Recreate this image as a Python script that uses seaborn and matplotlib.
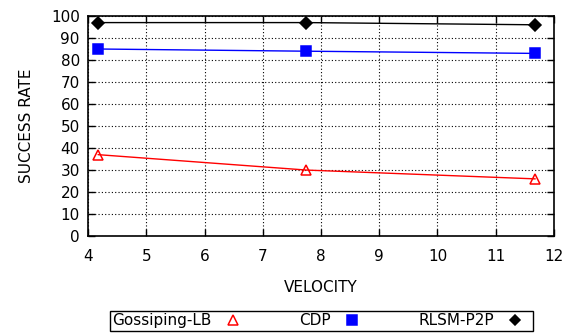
import pandas as pd
import matplotlib.pyplot as plt
import seaborn as sns

velocity = [4.17, 7.75, 11.68]
gossiping_lb = [37, 30, 26]
cdp = [85, 84, 83]
rlsm_p2p = [97, 97, 96]

series_names = ["Gossiping-LB", "CDP", "RLSM-P2P"]
series_values = [gossiping_lb, cdp, rlsm_p2p]
colors = ["red", "blue", "black"]
markers = ["^", "s", "D"]

sns.set_style("ticks")
plt.rcParams["font.family"] = ["DejaVu Sans"]
plt.rcParams["text.color"] = "black"
plt.rcParams["axes.labelcolor"] = "black"
plt.rcParams["xtick.color"] = "black"
plt.rcParams["ytick.color"] = "black"

fig = plt.figure(figsize=(5.8, 3.33), dpi=100)
ax = fig.add_axes([0.152, 0.291, 0.803, 0.661])

handles = []
for name, vals, c, m in zip(series_names, series_values, colors, markers):
    df = pd.DataFrame({"velocity": velocity, "rate": vals})
    face = "none" if m == "^" else c
    sns.lineplot(data=df, x="velocity", y="rate", ax=ax, color=c, linewidth=1,
                 marker=m, markersize=7.5 if m != "D" else 6,
                 markerfacecolor=face, markeredgecolor=c, markeredgewidth=1.1)
    h, = ax.plot([], [], linestyle="none", marker=m, color=c,
                 markerfacecolor=face, markeredgecolor=c,
                 markersize=6.5 if m != "D" else 5.5, markeredgewidth=1.1)
    handles.append(h)

ax.set_xlim(4, 12)
ax.set_ylim(0, 100)
ax.set_xticks(range(4, 13))
ax.set_yticks(range(0, 101, 10))
ax.grid(True, color="black", linestyle=(0, (1, 2)), linewidth=0.8)
ax.tick_params(direction="in", top=True, right=True, length=5, labelsize=11, width=1)
ax.tick_params(axis="x", pad=9)
ax.tick_params(axis="y", pad=6)
for sp in ax.spines.values():
    sp.set_color("black")
    sp.set_linewidth(1.2)
ax.set_xlabel("VELOCITY", fontsize=11, labelpad=12)
ax.set_ylabel("SUCCESS RATE", fontsize=11, labelpad=12)

leg = fig.legend(handles, series_names, loc="upper left", ncol=3,
                 bbox_to_anchor=(0.19, -0.02, 0.729, 0.086), mode="expand",
                 markerfirst=False, frameon=True, fancybox=False,
                 edgecolor="black", framealpha=1, fontsize=11,
                 handletextpad=0.4, borderaxespad=0, borderpad=0.15)
leg.get_frame().set_linewidth(1)

fig.savefig("out.png", dpi=100)
